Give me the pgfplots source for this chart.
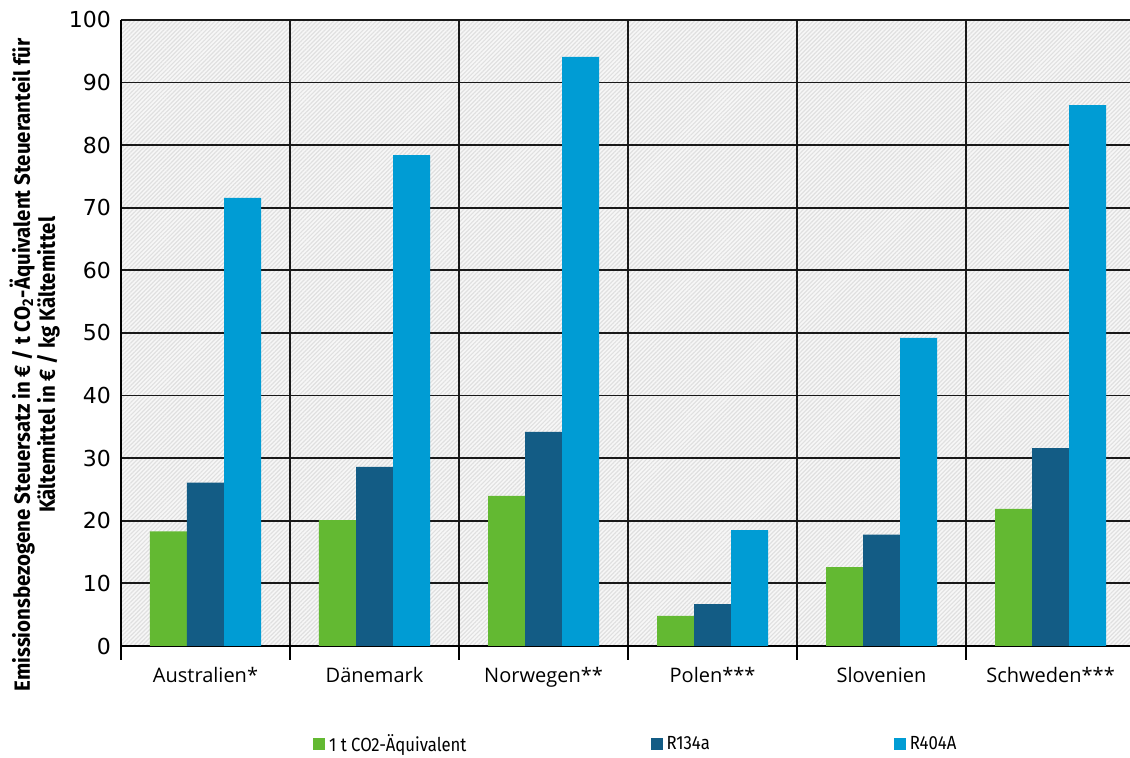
\documentclass[border=0pt]{standalone}
\usepackage{pgfplots}
\pgfplotsset{compat=1.18}
\usepackage{pgfplotstable}
\usetikzlibrary{patterns.meta}
\usepackage{fontspec}
\setmainfont{Open Sans}
\newfontfamily\tickfont{DejaVu Sans}
\newfontfamily\condfont[FakeStretch=0.88]{Fira Sans}
\newfontfamily\labfont[FakeStretch=0.93]{Fira Sans}
\definecolor{cgreen}{HTML}{63B932}
\definecolor{cdark}{HTML}{135C85}
\definecolor{clight}{HTML}{009CD4}
\pgfplotstableread{
x co2 r134a r404a
0 18.3 26.1 71.6
1 20.1 28.6 78.4
2 24.0 34.2 94.1
3 4.8 6.7 18.5
4 12.6 17.8 49.2
5 21.9 31.6 86.4
}\data
\begin{document}
\begin{tikzpicture}
\begin{axis}[name=ax,
  scale only axis, width=504.5pt, height=313pt,
  xmin=-0.5, xmax=5.47, ymin=0, ymax=100,
  ybar=0pt, bar width=0.219,
  axis lines*=left,
  axis line style={-, black, line width=1pt},
  axis background/.style={preaction={fill=gray!6}, pattern={Lines[angle=45,distance=1.5pt,line width=0.6pt]}, pattern color=gray!24},
  ytick={0,10,...,100},
  ymajorgrids, major grid style={black!90, line width=0.9pt},
  xtick={0,1,2,3,4,5},
  xticklabels={Australien*,Dänemark,Norwegen**,Polen***,Slovenien,Schweden***},
  minor xtick={-0.5,0.5,1.5,2.5,3.5,4.5},
  xminorgrids, minor grid style={black!90, line width=0.9pt},
  major tick length=0pt, minor tick length=7pt, tick align=outside,
  minor tick style={black, line width=0.9pt},
  /pgf/number format/assume math mode=true,
  yticklabel style={font=\tickfont\fontsize{11}{13}\selectfont, xshift=-1.5pt},
  xticklabel style={font=\fontsize{10}{12}\selectfont, yshift=-7pt},
  every axis y label/.style={at={(axis description cs:-0.0857,0.449)}, rotate=90, anchor=center},
  ylabel={Emissionsbezogene Steuersatz in € / t CO\textsubscript{2}-Äquivalent Steueranteil für\\ Kältemittel in € / kg Kältemittel},
  ylabel style={align=center, font=\labfont\bfseries\fontsize{11}{12.5}\selectfont},
  legend columns=3,
  legend style={draw=none, fill=none, at={(axis description cs:0.19,-0.157)}, anchor=west, inner sep=0pt,
    font=\condfont\fontsize{9.5}{11}\selectfont,
    /tikz/every even column/.append style={column sep=90pt}},
  clip=false,
]
\addplot[fill=cgreen, draw=none, legend image code/.code={\fill[cgreen] (0pt,-3pt) rectangle (6pt,3pt);}] table[x=x,y=co2]{\data};
\addplot[fill=cdark, draw=none, legend image code/.code={\fill[cdark] (0pt,-3pt) rectangle (6pt,3pt);}] table[x=x,y=r134a]{\data};
\addplot[fill=clight, draw=none, legend image code/.code={\fill[clight] (0pt,-3pt) rectangle (6pt,3pt);}] table[x=x,y=r404a]{\data};
\legend{1 t CO2-Äquivalent, R134a, R404A}
\end{axis}
\pgfresetboundingbox
\path ([xshift=-60.5pt,yshift=-56pt]ax.south west) rectangle ([yshift=10pt]ax.north east);
\end{tikzpicture}
\end{document}
